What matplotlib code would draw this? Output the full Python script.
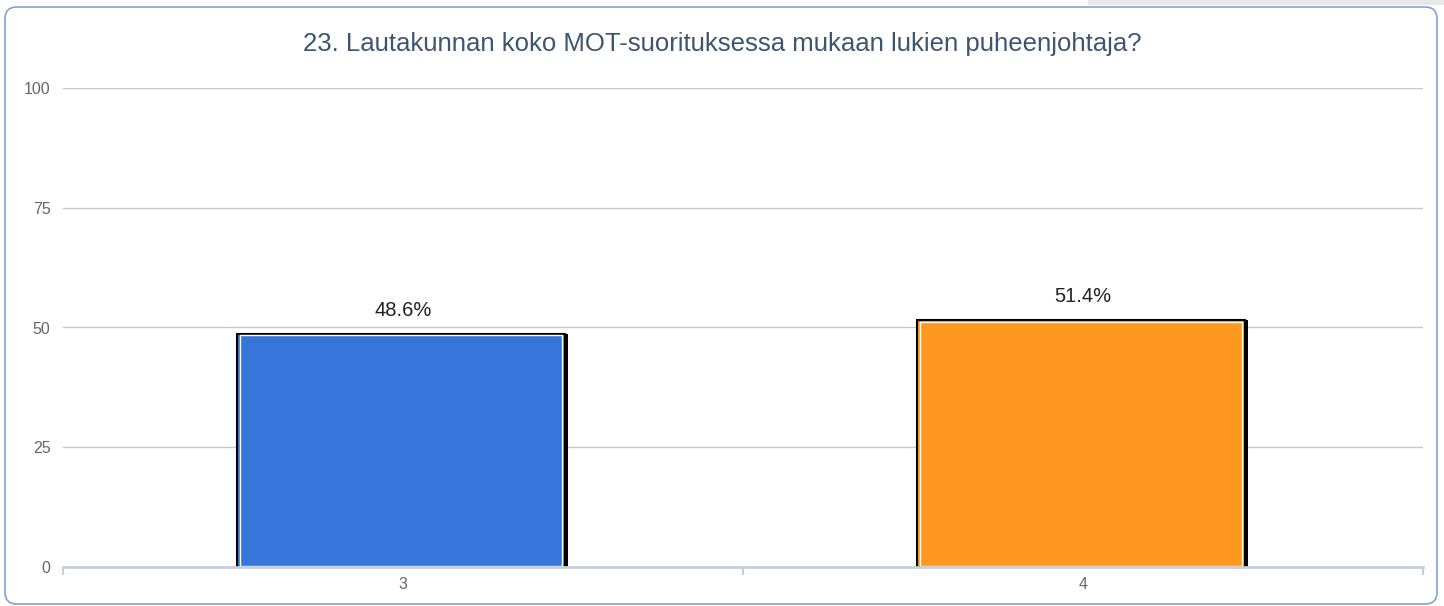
import numpy as np
import matplotlib.pyplot as plt
from matplotlib.patches import FancyBboxPatch, Rectangle

plt.rcParams['font.family'] = ['Liberation Sans', 'DejaVu Sans']

# data
categories = ["3", "4"]
values = [48.6, 51.4]
labels = ["48.6%", "51.4%"]
bar_colors = ["#3775DA", "#FF9820"]
yticks = [0, 25, 50, 75, 100]
title = "23. Lautakunnan koko MOT-suorituksessa mukaan lukien puheenjohtaja?"

W, H = 1444, 606
fig = plt.figure(figsize=(W / 100, H / 100), dpi=100)

# grey strip top right + rounded frame
fig.patches.append(Rectangle((1088 / W, 1 - 5 / H), (W - 1088) / W, 5 / H,
                             transform=fig.transFigure, facecolor="#E8E8E8",
                             edgecolor="none", zorder=0))
fig.patches.append(FancyBboxPatch((5 / W, 2 / H), 1432 / W, 597 / H,
                                  boxstyle="round,pad=0,rounding_size=0.008",
                                  transform=fig.transFigure, facecolor="white",
                                  edgecolor="#7FA2D0", linewidth=1.2, zorder=1,
                                  mutation_aspect=W / H))

ax = fig.add_axes([63 / W, 1 - 567 / H, (1423 - 63) / W, (567 - 88) / H])
ax.set_zorder(3)
ax.set_facecolor("none")
ax.set_xlim(-0.5, 1.5)
ax.set_ylim(0, 100)

x = np.arange(len(categories))
bw = 0.482
px = 2.0 / (1423 - 63)  # one pixel in x data units
py = 100.0 / (567 - 88)  # one pixel in y data units

# shadow on the right
ax.bar(x - 2 * px + 3.5 * px, np.array(values) + 0.6 * py, bw, color="black", zorder=2)
ax.bar(x - 2 * px, np.array(values) + 0.6 * py, bw, color=bar_colors,
       edgecolor="black", linewidth=1.5, zorder=3)
# inner white line
ax.bar(x - 2 * px, np.array(values) - 2.4 * py, bw - 6 * px, bottom=1.5 * py,
       fill=False, edgecolor="white", linewidth=1.0, zorder=4)

for xi, v, lab in zip(x, values, labels):
    ax.text(xi, v + 5, lab, ha="center", va="center", fontsize=14.5, color="#222222")

ax.set_yticks(yticks)
ax.set_yticklabels([str(t) for t in yticks], fontsize=11.5, color="#666666")
ax.yaxis.grid(True, color="#C8C8C8", linewidth=1.0, zorder=0)
ax.set_axisbelow(True)
ax.tick_params(axis="y", length=0, pad=9)

ax.set_xticks(x)
ax.set_xticklabels(categories, fontsize=11.5, color="#666666")
ax.tick_params(axis="x", length=0, pad=7)
ax.set_xticks([-0.5, 0.5, 1.5], minor=True)
ax.tick_params(axis="x", which="minor", length=6, width=1.5, color="#C5D0DD", direction="out")

for s in ["top", "right", "left"]:
    ax.spines[s].set_visible(False)
ax.spines["bottom"].set_color("#C5D0DD")
ax.spines["bottom"].set_linewidth(2)
ax.spines["bottom"].set_zorder(5)

fig.text(0.5, 1 - 44 / H, title, ha="center", va="center", fontsize=18.5, color="#3E5570")

fig.savefig("out.png", dpi=100)
